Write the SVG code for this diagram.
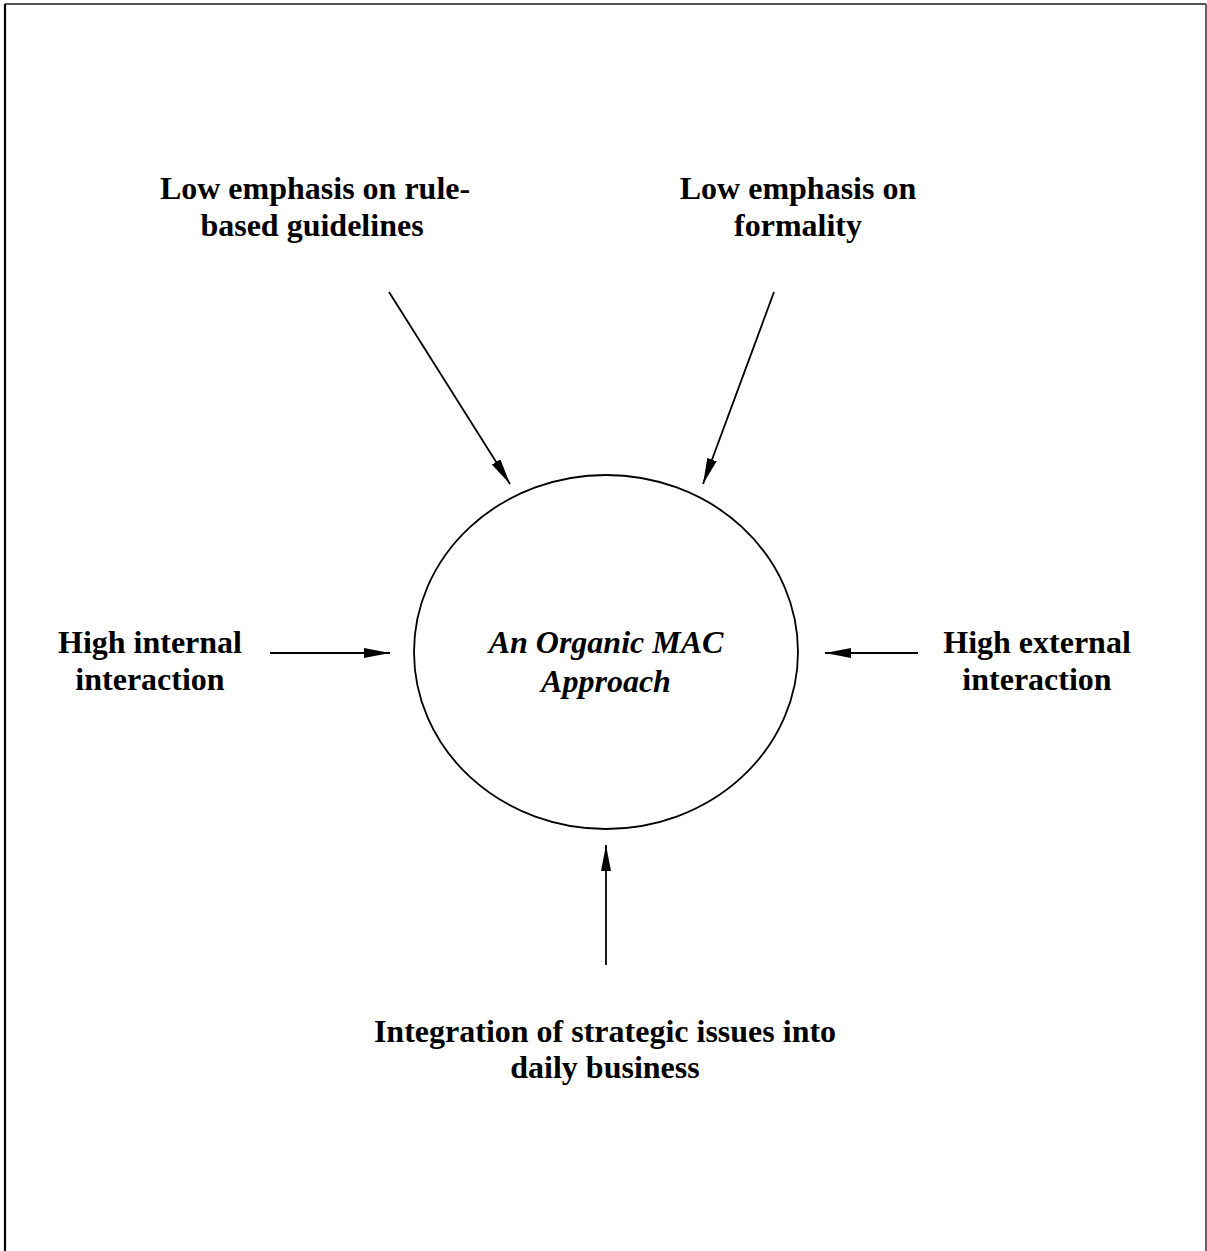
<svg xmlns="http://www.w3.org/2000/svg" width="1207" height="1251" viewBox="0 0 1207 1251">
<style>
.t{font-family:"Liberation Serif","Times New Roman",serif;font-weight:bold;font-size:32px;text-anchor:middle;fill:#000}
.c{font-family:"Liberation Serif","Times New Roman",serif;font-weight:bold;font-style:italic;font-size:32px;text-anchor:middle;fill:#000}
.l{stroke:#000;stroke-width:1.8;fill:none}
</style>
<defs>
<marker id="ah" viewBox="0 0 26 10" refX="26" refY="5" markerWidth="26" markerHeight="10" markerUnits="userSpaceOnUse" orient="auto">
<path d="M0,0 L26,5 L0,10 Z" fill="#000"/>
</marker>
</defs>
<rect width="1207" height="1251" fill="#fff"/>
<g id="frame">
<line x1="5" y1="4" x2="1206" y2="4" stroke="#555" stroke-width="1.8"/>
<line x1="5" y1="4" x2="5" y2="1251" stroke="#000" stroke-width="2.2"/>
<line x1="1206" y1="4" x2="1206" y2="1251" stroke="#333" stroke-width="1.5"/>
</g>
<g id="center">
<ellipse cx="606" cy="652" rx="192" ry="177" class="l"/>
<text class="c" x="606" y="653">An Organic MAC</text>
<text class="c" x="606" y="692">Approach</text>
</g>
<g id="n-rule">
<text class="t" x="315" y="199">Low emphasis on rule-</text>
<text class="t" x="312" y="236">based guidelines</text>
</g>
<g id="n-formality">
<text class="t" x="798" y="199">Low emphasis on</text>
<text class="t" x="798" y="236">formality</text>
</g>
<g id="n-internal">
<text class="t" x="150" y="653">High internal</text>
<text class="t" x="150" y="690">interaction</text>
</g>
<g id="n-external">
<text class="t" x="1037" y="653">High external</text>
<text class="t" x="1037" y="690">interaction</text>
</g>
<g id="n-integration">
<text class="t" x="605" y="1042">Integration of strategic issues into</text>
<text class="t" x="605" y="1078">daily business</text>
</g>
<g id="connectors">
<line class="l" x1="389" y1="292" x2="510" y2="484" marker-end="url(#ah)"/>
<line class="l" x1="774" y1="292" x2="703" y2="484" marker-end="url(#ah)"/>
<line class="l" x1="270" y1="653" x2="390" y2="653" marker-end="url(#ah)"/>
<line class="l" x1="918" y1="653" x2="825" y2="653" marker-end="url(#ah)"/>
<line class="l" x1="606" y1="965" x2="606" y2="845" marker-end="url(#ah)"/>
</g>
</svg>
